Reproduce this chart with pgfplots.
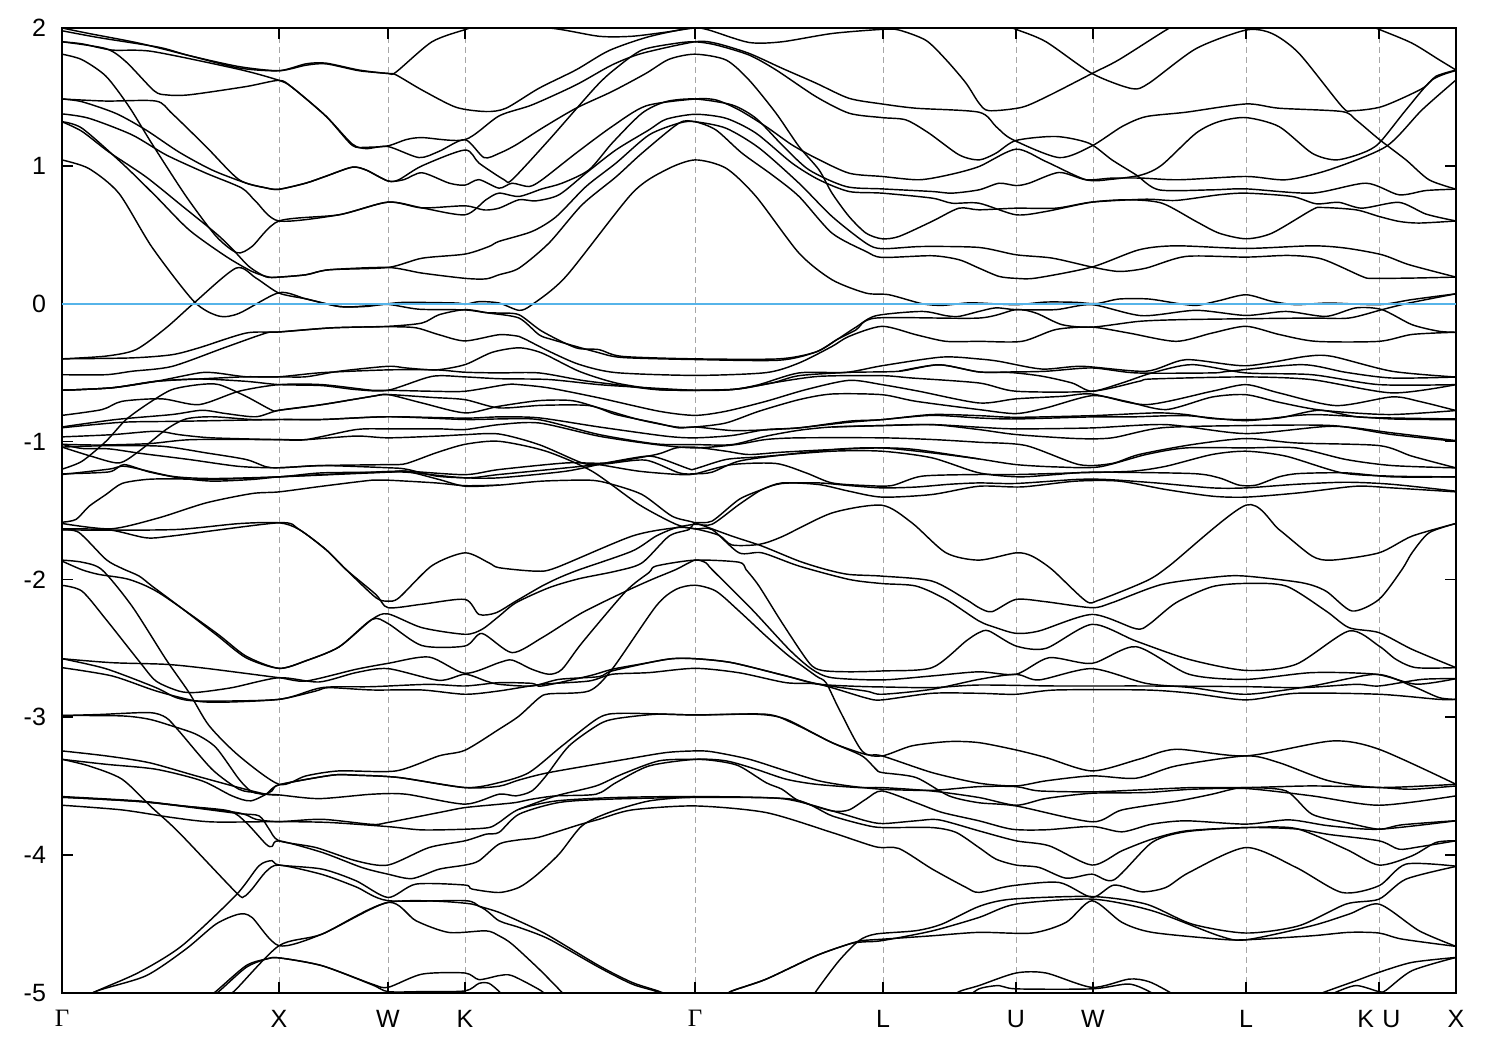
\documentclass[border=0pt]{standalone}
\usepackage{fontspec}
\setmainfont{Liberation Sans}
\newfontfamily\gam{Liberation Serif}
\usepackage{pgfplots}
\pgfplotsset{compat=1.18}
\definecolor{fermi}{RGB}{86,180,233}
\newcommand{\G}{{\gam Γ}}
\begin{document}
\begin{tikzpicture}
\path[use as bounding box] (-31pt,-28.5pt) rectangle (719pt,496.5pt);
\begin{axis}[
  scale only axis, width=697pt, height=482.5pt,
  xmin=63, xmax=1457, ymin=-5, ymax=2,
  xtick={63,280,389,466,696,884,1017,1094,1247,1380,1457},
  xticklabels={\G,X,W,K,\G,L,U,W,L,K\,\,U,X},
  ytick={-5,-4,-3,-2,-1,0,1,2},
  yticklabels={-5,-4,-3,-2,-1,0,1,2},
  tick style={black, line width=0.9pt},
  major tick length=5.5pt,
  tick align=inside,
  axis line style={line width=1pt},
  ticklabel style={font=\fontsize{12.5}{14}\selectfont},
  xticklabel style={yshift=-5pt},
  yticklabel style={xshift=-4.5pt},
  xmajorgrids,
  x grid style={densely dashed, gray!70, line width=0.4pt},
  cycle list={black\\},
  every axis plot/.style={line width=0.72pt, smooth, tension=0.45, solid, no markers},
]
% bands above the Fermi level
\addplot coordinates {(63,2.0)(90,1.96)(140,1.89)(190,1.80)(240,1.71)(280,1.69)(307,1.74)(327,1.745)(360,1.695)(389,1.67)(397,1.68)(433,1.90)(467,1.99)(480,2.01)(550,2.0)(600,1.94)(633,1.94)(667,1.97)(696,2.0)(710,1.985)(750,1.895)(783,1.90)(833,1.96)(883,1.99)(900,1.985)(927,1.91)(947,1.77)(967,1.60)(980,1.455)(990,1.40)(1023,1.425)(1050,1.51)(1093,1.67)(1120,1.77)(1167,1.985)(1177,2.01)(1240,2.15)(1340,2.1)(1380,1.99)(1413,1.89)(1440,1.77)(1457,1.695)};
\addplot coordinates {(63,1.98)(100,1.93)(160,1.86)(190,1.80)(240,1.72)(280,1.69)(307,1.73)(327,1.74)(360,1.69)(389,1.67)(397,1.66)(423,1.55)(457,1.425)(487,1.394)(507,1.418)(540,1.563)(577,1.696)(610,1.836)(650,1.937)(696,2.005)(727,2.005)(757,2.01)(830,2.03)(884,2.02)(950,2.05)(1000,2.03)(1017,1.99)(1047,1.90)(1093,1.67)(1133,1.56)(1150,1.60)(1197,1.85)(1247,1.985)(1273,1.96)(1300,1.816)(1343,1.43)(1353,1.40)(1383,1.43)(1423,1.56)(1437,1.65)(1457,1.695)};
\addplot coordinates {(63,1.90)(83,1.885)(113,1.84)(153,1.83)(240,1.70)(280,1.62)(293,1.57)(327,1.36)(353,1.15)(367,1.135)(389,1.145)(407,1.19)(423,1.205)(466,1.19)(500,1.362)(533,1.442)(577,1.587)(613,1.732)(643,1.816)(696,1.90)(717,1.889)(750,1.816)(783,1.708)(817,1.60)(850,1.49)(883,1.449)(917,1.418)(980,1.389)(997,1.285)(1013,1.193)(1060,1.06)(1093,1.145)(1123,1.285)(1147,1.357)(1187,1.389)(1247,1.449)(1280,1.418)(1343,1.394)(1357,1.333)(1380,1.193)(1407,1.043)(1430,0.899)(1457,0.831)};
\addplot coordinates {(63,1.90)(107,1.85)(127,1.755)(155,1.545)(167,1.515)(190,1.515)(247,1.575)(280,1.62)(293,1.57)(327,1.36)(353,1.16)(367,1.125)(389,1.14)(420,1.06)(440,1.105)(466,1.19)(485,1.06)(500,1.09)(517,1.152)(543,1.273)(577,1.418)(613,1.539)(647,1.671)(670,1.773)(696,1.81)(727,1.768)(750,1.623)(777,1.382)(800,1.14)(820,0.971)(833,0.802)(850,0.633)(867,0.512)(883,0.471)(900,0.488)(933,0.597)(960,0.693)(980,0.681)(1017,0.693)(1057,0.693)(1093,0.737)(1147,0.758)(1177,0.749)(1220,0.79)(1247,0.802)(1293,0.778)(1317,0.725)(1340,0.735)(1363,0.693)(1400,0.735)(1427,0.65)(1457,0.60)};
\addplot coordinates {(63,1.81)(83,1.77)(107,1.65)(130,1.43)(153,1.16)(187,0.78)(217,0.49)(238,0.37)(253,0.415)(280,0.60)(340,0.645)(389,0.737)(423,0.695)(466,0.71)(485,0.68)(500,0.693)(520,0.754)(537,0.746)(560,0.79)(587,0.947)(617,1.116)(650,1.261)(667,1.338)(696,1.374)(727,1.345)(757,1.237)(793,1.02)(820,0.899)(850,0.814)(883,0.802)(933,0.766)(953,0.729)(980,0.729)(1017,0.645)(1047,0.669)(1093,0.737)(1130,0.754)(1163,0.729)(1197,0.597)(1220,0.512)(1247,0.471)(1273,0.512)(1313,0.681)(1323,0.698)(1357,0.681)(1380,0.633)(1400,0.597)(1420,0.585)(1457,0.60)};
\addplot coordinates {(63,1.485)(107,1.47)(157,1.47)(173,1.38)(207,1.14)(240,0.90)(267,0.84)(280,0.83)(307,0.875)(327,0.925)(353,0.99)(367,0.97)(389,0.89)(400,0.90)(423,1.0)(466,1.115)(480,1.02)(505,0.90)(513,0.899)(550,1.188)(597,1.575)(617,1.708)(643,1.84)(677,1.889)(696,1.90)(717,1.877)(750,1.804)(777,1.696)(817,1.502)(850,1.382)(883,1.35)(907,1.333)(930,1.237)(960,1.08)(980,1.043)(997,1.092)(1017,1.184)(1057,1.213)(1090,1.164)(1113,1.043)(1137,0.935)(1160,0.826)(1213,0.826)(1247,0.833)(1313,0.802)(1367,0.874)(1400,0.79)(1427,0.821)(1457,0.831)};
\addplot coordinates {(63,1.485)(83,1.465)(117,1.38)(147,1.26)(180,1.10)(213,0.97)(247,0.875)(267,0.84)(280,0.83)(307,0.875)(327,0.925)(353,0.99)(367,0.97)(389,0.89)(405,0.90)(423,0.95)(450,0.875)(466,0.86)(480,0.90)(500,0.838)(513,0.874)(530,0.85)(543,0.899)(577,1.092)(613,1.285)(647,1.435)(696,1.485)(717,1.478)(740,1.406)(767,1.285)(793,1.152)(817,1.056)(850,0.947)(883,0.923)(920,0.899)(950,0.935)(980,0.995)(1017,1.121)(1047,1.031)(1087,0.899)(1113,0.903)(1143,0.935)(1163,1.007)(1197,1.237)(1220,1.321)(1247,1.35)(1280,1.285)(1313,1.092)(1337,1.043)(1363,1.092)(1380,1.164)(1407,1.406)(1433,1.623)(1457,1.691)};
\addplot coordinates {(63,1.377)(90,1.345)(133,1.225)(167,1.08)(207,0.947)(243,0.838)(257,0.74)(280,0.60)(340,0.645)(389,0.737)(423,0.695)(466,0.645)(487,0.754)(500,0.802)(520,0.778)(543,0.833)(563,0.874)(590,0.971)(613,1.164)(643,1.382)(667,1.466)(696,1.485)(733,1.442)(757,1.345)(783,1.152)(810,0.971)(847,0.85)(883,0.833)(933,0.814)(953,0.802)(980,0.826)(1000,0.874)(1017,0.857)(1030,0.874)(1060,0.952)(1087,0.899)(1113,0.911)(1143,0.911)(1180,0.899)(1247,0.923)(1287,0.899)(1330,0.971)(1387,1.14)(1423,1.406)(1457,1.623)};
\addplot coordinates {(63,1.32)(83,1.273)(123,1.019)(157,0.778)(190,0.536)(227,0.343)(253,0.234)(270,0.193)(280,0.193)(307,0.21)(330,0.246)(389,0.263)(423,0.33)(466,0.36)(490,0.415)(500,0.452)(533,0.524)(557,0.63)(587,0.85)(617,1.02)(650,1.224)(680,1.31)(696,1.32)(717,1.26)(743,1.092)(773,0.935)(800,0.778)(833,0.512)(867,0.379)(883,0.336)(933,0.348)(960,0.319)(980,0.258)(1000,0.198)(1017,0.184)(1037,0.186)(1093,0.266)(1140,0.391)(1177,0.42)(1247,0.401)(1313,0.42)(1347,0.403)(1383,0.355)(1410,0.283)(1457,0.193)};
\addplot coordinates {(63,1.32)(83,1.25)(110,1.10)(147,0.92)(183,0.71)(217,0.51)(233,0.40)(250,0.27)(267,0.195)(280,0.193)(307,0.21)(330,0.246)(389,0.263)(423,0.222)(466,0.184)(487,0.18)(500,0.21)(520,0.258)(550,0.44)(583,0.717)(617,0.92)(643,1.092)(680,1.31)(696,1.32)(727,1.273)(760,1.13)(800,0.874)(833,0.633)(867,0.439)(883,0.399)(923,0.415)(980,0.408)(1017,0.355)(1053,0.331)(1093,0.266)(1120,0.234)(1147,0.258)(1187,0.343)(1247,0.338)(1290,0.35)(1323,0.324)(1363,0.198)(1373,0.184)(1413,0.186)(1457,0.193)};
\addplot coordinates {(63,1.043)(90,0.98)(120,0.80)(153,0.41)(195,0.016)(220,-0.09)(240,-0.07)(280,0.08)(307,0.035)(340,-0.02)(360,-0.02)(389,0)(407,0.01)(457,0.005)(466,-0.005)(480,0.015)(500,0.005)(520,-0.048)(533,-0.007)(567,0.198)(633,0.80)(667,0.971)(696,1.043)(727,0.983)(757,0.778)(800,0.367)(833,0.174)(867,0.077)(890,0.065)(923,0)(943,-0.012)(967,0.005)(980,0.005)(1017,-0.007)(1047,0.012)(1077,0.01)(1097,0)(1120,0.034)(1150,0.034)(1180,0)(1198,-0.012)(1220,0.022)(1247,0.065)(1273,0.017)(1297,-0.007)(1330,0.005)(1380,-0.007)(1413,0.03)(1457,0.072)};
\addplot coordinates {(63,-0.40)(107,-0.38)(137,-0.333)(167,-0.176)(195,0.005)(237,0.258)(257,0.186)(280,0.077)(307,0.035)(340,-0.02)(367,-0.02)(389,-0.005)(420,-0.04)(466,-0.045)(487,-0.065)(500,-0.068)(520,-0.08)(543,-0.2)(577,-0.32)(600,-0.333)(623,-0.382)(696,-0.40)(780,-0.40)(817,-0.35)(838,-0.26)(857,-0.17)(877,-0.087)(923,-0.056)(947,-0.087)(960,-0.092)(980,-0.056)(997,-0.03)(1017,-0.043)(1057,-0.043)(1093,-0.007)(1143,-0.087)(1197,-0.048)(1247,-0.085)(1287,-0.056)(1327,-0.092)(1357,-0.03)(1383,-0.043)(1413,-0.152)(1440,-0.2)(1457,-0.207)};
\addplot coordinates {(63,-0.40)(133,-0.393)(173,-0.37)(200,-0.32)(247,-0.213)(280,-0.205)(333,-0.175)(389,-0.164)(423,-0.14)(440,-0.08)(466,-0.043)(490,-0.068)(520,-0.104)(540,-0.225)(553,-0.26)(597,-0.35)(623,-0.39)(696,-0.405)(780,-0.41)(817,-0.35)(838,-0.26)(857,-0.19)(877,-0.104)(980,-0.104)(1017,-0.043)(1037,-0.068)(1063,-0.152)(1093,-0.17)(1140,-0.128)(1180,-0.116)(1247,-0.109)(1313,-0.104)(1350,-0.104)(1383,-0.043)(1410,0.005)(1457,0.072)};
\addplot coordinates {(63,-0.515)(107,-0.515)(133,-0.49)(173,-0.455)(225,-0.32)(267,-0.213)(280,-0.205)(333,-0.175)(389,-0.167)(417,-0.175)(440,-0.225)(466,-0.27)(500,-0.225)(520,-0.237)(527,-0.26)(550,-0.345)(580,-0.44)(617,-0.50)(696,-0.52)(767,-0.50)(800,-0.43)(833,-0.31)(850,-0.237)(883,-0.164)(917,-0.225)(947,-0.273)(980,-0.273)(1023,-0.273)(1057,-0.187)(1093,-0.17)(1130,-0.213)(1177,-0.273)(1213,-0.213)(1247,-0.164)(1280,-0.223)(1317,-0.273)(1380,-0.273)(1413,-0.223)(1457,-0.207)};
% -0.5 to -1.4
\addplot coordinates {(63,-0.628)(113,-0.61)(157,-0.563)(200,-0.546)(247,-0.53)(280,-0.53)(323,-0.50)(389,-0.48)(437,-0.48)(466,-0.497)(500,-0.502)(540,-0.502)(583,-0.556)(617,-0.587)(657,-0.623)(696,-0.628)(740,-0.618)(773,-0.575)(820,-0.527)(883,-0.522)(913,-0.539)(980,-0.575)(1017,-0.635)(1093,-0.635)(1140,-0.563)(1153,-0.546)(1247,-0.531)(1313,-0.551)(1393,-0.647)(1457,-0.587)};
\addplot coordinates {(63,-0.628)(113,-0.61)(157,-0.563)(200,-0.502)(217,-0.502)(247,-0.53)(280,-0.53)(307,-0.53)(340,-0.49)(389,-0.454)(407,-0.466)(437,-0.48)(466,-0.442)(493,-0.353)(520,-0.32)(543,-0.358)(580,-0.49)(617,-0.575)(660,-0.623)(696,-0.628)(733,-0.623)(760,-0.587)(800,-0.502)(847,-0.498)(883,-0.45)(943,-0.387)(980,-0.401)(1000,-0.418)(1043,-0.474)(1083,-0.454)(1147,-0.49)(1187,-0.406)(1247,-0.45)(1307,-0.382)(1333,-0.382)(1393,-0.49)(1457,-0.532)};
\addplot coordinates {(63,-0.628)(113,-0.61)(157,-0.563)(200,-0.546)(247,-0.563)(280,-0.587)(323,-0.594)(357,-0.623)(389,-0.628)(433,-0.527)(466,-0.531)(500,-0.544)(550,-0.55)(600,-0.587)(640,-0.606)(696,-0.628)(733,-0.623)(773,-0.575)(800,-0.522)(850,-0.498)(900,-0.49)(940,-0.443)(980,-0.495)(1013,-0.5)(1043,-0.526)(1073,-0.575)(1093,-0.635)(1123,-0.575)(1153,-0.502)(1193,-0.442)(1247,-0.502)(1313,-0.515)(1380,-0.587)(1457,-0.587)};
\addplot coordinates {(900,-0.49)(940,-0.443)(980,-0.495)(1013,-0.495)(1047,-0.49)(1093,-0.466)(1137,-0.502)(1213,-0.502)(1230,-0.49)(1303,-0.442)(1347,-0.498)(1393,-0.539)(1457,-0.532)};
\addplot coordinates {(63,-0.81)(103,-0.768)(123,-0.708)(163,-0.69)(200,-0.732)(240,-0.635)(280,-0.587)(323,-0.587)(373,-0.628)(389,-0.628)(433,-0.635)(466,-0.635)(507,-0.587)(520,-0.587)(550,-0.611)(600,-0.683)(660,-0.78)(696,-0.81)(727,-0.78)(767,-0.708)(807,-0.623)(850,-0.556)(883,-0.587)(920,-0.635)(980,-0.72)(1017,-0.69)(1063,-0.672)(1093,-0.655)(1147,-0.732)(1213,-0.635)(1247,-0.587)(1280,-0.647)(1337,-0.739)(1393,-0.676)(1420,-0.708)(1457,-0.775)};
\addplot coordinates {(63,-1.2)(83,-1.143)(107,-0.998)(127,-0.841)(150,-0.72)(173,-0.623)(200,-0.587)(220,-0.587)(247,-0.672)(273,-0.773)(280,-0.773)(323,-0.732)(373,-0.672)(389,-0.659)(423,-0.72)(466,-0.792)(500,-0.744)(540,-0.703)(573,-0.703)(600,-0.756)(640,-0.841)(677,-0.894)(696,-0.894)(727,-0.865)(760,-0.78)(800,-0.696)(833,-0.655)(883,-0.66)(917,-0.708)(980,-0.768)(1017,-0.797)(1047,-0.756)(1093,-0.667)(1127,-0.708)(1167,-0.768)(1213,-0.677)(1247,-0.66)(1280,-0.715)(1323,-0.773)(1390,-0.804)(1457,-0.775)};
\addplot coordinates {(63,-0.894)(117,-0.84)(173,-0.804)(203,-0.773)(227,-0.797)(257,-0.82)(280,-0.773)(323,-0.732)(373,-0.672)(389,-0.659)(433,-0.68)(466,-0.696)(500,-0.756)(543,-0.737)(590,-0.739)(617,-0.804)(657,-0.865)(680,-0.901)(696,-0.894)(733,-0.92)(767,-0.915)(800,-0.9)(850,-0.86)(883,-0.841)(933,-0.81)(980,-0.829)(1017,-0.836)(1093,-0.821)(1133,-0.821)(1187,-0.812)(1247,-0.848)(1313,-0.804)(1393,-0.836)(1457,-0.841)};
\addplot coordinates {(63,-0.9)(123,-0.86)(180,-0.853)(280,-0.84)(323,-0.84)(389,-0.82)(466,-0.83)(500,-0.821)(540,-0.828)(600,-0.894)(667,-0.961)(696,-0.973)(733,-0.956)(767,-0.913)(800,-0.901)(850,-0.852)(883,-0.841)(933,-0.804)(980,-0.812)(1017,-0.824)(1093,-0.812)(1157,-0.792)(1187,-0.804)(1213,-0.833)(1247,-0.841)(1280,-0.829)(1320,-0.773)(1357,-0.82)(1393,-0.829)(1457,-0.836)};
\addplot coordinates {(63,-1.04)(92,-1.106)(120,-1.155)(140,-1.07)(167,-0.913)(187,-0.836)(213,-0.82)(253,-0.84)(280,-0.84)(323,-0.84)(389,-0.82)(466,-0.84)(500,-0.836)(540,-0.841)(600,-0.949)(657,-1.017)(696,-1.022)(733,-1.022)(767,-0.961)(800,-0.918)(833,-0.894)(883,-0.884)(933,-0.877)(980,-0.896)(1017,-0.908)(1093,-0.901)(1167,-0.877)(1247,-0.942)(1333,-0.889)(1393,-0.937)(1457,-0.993)};
\addplot coordinates {(833,-0.894)(883,-0.884)(933,-0.877)(980,-0.913)(1017,-0.949)(1077,-0.978)(1113,-0.973)(1163,-0.9)(1247,-0.884)(1333,-0.884)(1393,-0.949)(1457,-0.998)};
\addplot coordinates {(63,-0.966)(113,-0.95)(157,-0.925)(180,-0.95)(213,-0.973)(280,-0.986)(307,-0.986)(357,-0.913)(389,-0.908)(440,-0.908)(466,-0.913)(500,-0.877)(540,-0.865)(600,-0.961)(657,-1.022)(696,-1.046)(737,-1.022)(767,-0.985)(800,-0.973)(883,-0.973)(933,-0.985)(980,-1.005)(1027,-1.029)(1080,-1.167)(1113,-1.159)(1140,-1.094)(1193,-1.022)(1247,-0.978)(1297,-1.01)(1380,-1.029)(1413,-1.106)(1457,-1.191)};
\addplot coordinates {(63,-1.02)(100,-1.025)(150,-1.015)(193,-0.986)(280,-0.986)(307,-0.986)(357,-0.96)(389,-0.973)(440,-0.96)(466,-0.95)(500,-0.945)(540,-1.022)(583,-1.155)(600,-1.167)(640,-1.215)(680,-1.239)(696,-1.234)(733,-1.167)(777,-1.159)(807,-1.227)(833,-1.3)(867,-1.319)(893,-1.319)(923,-1.251)(980,-1.239)(1017,-1.239)(1077,-1.227)(1133,-1.215)(1167,-1.179)(1213,-1.094)(1247,-1.07)(1287,-1.106)(1343,-1.227)(1393,-1.251)(1457,-1.256)};
\addplot coordinates {(63,-1.04)(107,-1.03)(163,-1.034)(207,-1.082)(247,-1.13)(267,-1.183)(280,-1.19)(323,-1.174)(389,-1.167)(407,-1.16)(437,-1.082)(466,-1.02)(500,-0.998)(547,-1.07)(593,-1.215)(640,-1.457)(677,-1.6)(696,-1.633)(713,-1.638)(740,-1.807)(763,-1.807)(800,-1.903)(850,-2.0)(883,-2.03)(917,-2.048)(947,-2.145)(980,-2.302)(997,-2.35)(1017,-2.391)(1040,-2.374)(1093,-2.254)(1137,-2.358)(1150,-2.326)(1177,-2.169)(1213,-2.053)(1247,-2.029)(1287,-2.048)(1327,-2.229)(1350,-2.35)(1380,-2.386)(1413,-2.507)(1457,-2.64)};
\addplot coordinates {(63,-1.234)(110,-1.22)(125,-1.167)(150,-1.22)(180,-1.263)(213,-1.287)(253,-1.275)(280,-1.256)(323,-1.24)(373,-1.222)(407,-1.215)(466,-1.24)(500,-1.203)(567,-1.155)(607,-1.155)(657,-1.094)(677,-1.046)(696,-1.041)(727,-1.07)(750,-1.094)(783,-1.077)(833,-1.058)(883,-1.046)(917,-1.058)(980,-1.126)(1017,-1.167)(1057,-1.184)(1100,-1.184)(1147,-1.094)(1187,-1.046)(1247,-1.046)(1297,-1.046)(1347,-1.13)(1393,-1.174)(1457,-1.191)};
\addplot coordinates {(63,-1.239)(110,-1.2)(127,-1.18)(173,-1.252)(213,-1.268)(280,-1.256)(373,-1.227)(407,-1.222)(466,-1.263)(500,-1.239)(567,-1.191)(610,-1.159)(647,-1.135)(680,-1.227)(696,-1.234)(713,-1.222)(740,-1.142)(787,-1.094)(843,-1.053)(883,-1.046)(933,-1.082)(980,-1.126)};
\addplot coordinates {(63,-1.02)(83,-1.05)(110,-1.053)(143,-1.087)(190,-1.13)(240,-1.18)(280,-1.19)(323,-1.174)(389,-1.19)(407,-1.2)(437,-1.25)(466,-1.263)(500,-1.263)(567,-1.215)(607,-1.155)(647,-1.106)(663,-1.126)(690,-1.198)(696,-1.198)(727,-1.13)(760,-1.111)(833,-1.07)(883,-1.07)(933,-1.118)(980,-1.227)(1020,-1.256)(1057,-1.239)(1093,-1.222)(1193,-1.232)(1220,-1.263)(1240,-1.316)(1257,-1.316)(1280,-1.256)(1300,-1.232)(1347,-1.227)(1393,-1.256)(1457,-1.256)};
\addplot coordinates {(63,-1.585)(77,-1.565)(90,-1.47)(107,-1.384)(123,-1.304)(147,-1.275)(173,-1.27)(213,-1.275)(280,-1.256)(323,-1.227)(389,-1.222)(407,-1.215)(440,-1.275)(466,-1.324)(500,-1.316)(543,-1.287)(590,-1.28)(610,-1.304)(643,-1.384)(673,-1.541)(696,-1.589)(733,-1.686)(763,-1.758)(800,-1.867)(827,-1.928)(850,-1.964)(883,-1.976)(933,-2.012)(967,-2.145)(980,-2.205)(993,-2.234)(1017,-2.145)(1047,-2.162)(1093,-2.205)(1113,-2.169)(1163,-2.036)(1220,-1.98)(1247,-1.976)(1303,-2.024)(1327,-2.085)(1353,-2.229)(1380,-2.145)(1403,-1.928)(1413,-1.807)(1430,-1.662)(1457,-1.594)};
\addplot coordinates {(63,-1.594)(112,-1.633)(160,-1.553)(207,-1.445)(253,-1.377)(280,-1.365)(323,-1.324)(373,-1.28)(389,-1.28)(437,-1.3)(466,-1.32)(500,-1.316)};
% -1.6 to -3
\addplot coordinates {(63,-1.633)(110,-1.64)(147,-1.698)(173,-1.685)(280,-1.589)(300,-1.637)(327,-1.784)(347,-1.928)(377,-2.133)(389,-2.157)(400,-2.133)(433,-1.9)(466,-1.807)(490,-1.88)(500,-1.915)(537,-1.94)(557,-1.915)(633,-1.686)(677,-1.625)(696,-1.633)(720,-1.68)(733,-1.75)(760,-1.746)(783,-1.69)(833,-1.518)(883,-1.462)(913,-1.59)(947,-1.807)(980,-1.86)(1017,-1.807)(1033,-1.831)(1053,-1.928)(1087,-2.157)(1100,-2.15)(1147,-2.012)(1170,-1.903)(1247,-1.461)(1280,-1.638)(1313,-1.83)(1333,-1.86)(1380,-1.807)(1413,-1.686)(1457,-1.594)};
\addplot coordinates {(63,-1.64)(110,-1.643)(180,-1.637)(240,-1.595)(280,-1.589)(300,-1.637)(327,-1.784)(347,-1.928)(377,-2.11)(389,-2.205)(423,-2.18)(466,-2.145)(480,-2.254)(497,-2.242)(517,-2.157)(543,-2.048)(560,-1.988)(580,-1.93)(633,-1.795)(657,-1.686)(677,-1.625)(696,-1.6)(713,-1.6)(740,-1.457)(763,-1.348)(783,-1.304)(820,-1.3)(850,-1.319)(883,-1.336)(917,-1.33)(950,-1.31)(980,-1.3)(1017,-1.304)(1077,-1.275)(1107,-1.275)(1157,-1.3)(1213,-1.336)(1247,-1.336)(1297,-1.31)(1347,-1.295)(1393,-1.31)(1457,-1.36)};
\addplot coordinates {(63,-1.64)(80,-1.66)(107,-1.855)(123,-1.92)(140,-1.975)(153,-2.048)(180,-2.194)(217,-2.4)(247,-2.568)(280,-2.645)(307,-2.59)(340,-2.49)(373,-2.29)(389,-2.25)(423,-2.35)(466,-2.398)(483,-2.362)(500,-2.267)(517,-2.169)(550,-2.06)(580,-1.995)(617,-1.94)(643,-1.88)(670,-1.686)(690,-1.638)(696,-1.589)(713,-1.577)(740,-1.42)(763,-1.348)(783,-1.3)(820,-1.312)(850,-1.36)(883,-1.403)(933,-1.384)(980,-1.324)(1023,-1.329)(1077,-1.287)(1120,-1.287)(1167,-1.348)(1213,-1.396)(1247,-1.403)(1300,-1.372)(1357,-1.324)(1393,-1.336)(1457,-1.365)};
\addplot coordinates {(63,-1.867)(83,-1.93)(100,-1.964)(130,-2.0)(160,-2.097)(217,-2.387)(247,-2.556)(280,-2.645)(307,-2.59)(340,-2.49)(373,-2.29)(389,-2.32)(423,-2.48)(466,-2.483)(483,-2.392)(513,-2.531)(543,-2.423)(583,-2.242)(627,-2.085)(653,-2.0)(677,-1.928)(696,-1.86)(707,-1.88)(713,-1.928)(753,-2.218)(790,-2.507)(813,-2.652)(833,-2.713)(883,-2.729)(933,-2.7)(980,-2.67)(1017,-2.688)(1050,-2.568)(1093,-2.609)(1137,-2.488)(1190,-2.688)(1247,-2.725)(1313,-2.676)(1377,-2.688)(1417,-2.76)(1457,-2.72)};
\addplot coordinates {(63,-2.575)(113,-2.604)(167,-2.616)(207,-2.645)(280,-2.713)(307,-2.737)(357,-2.652)(389,-2.609)(430,-2.563)(466,-2.681)(500,-2.604)(513,-2.585)(533,-2.652)(550,-2.688)(563,-2.652)(583,-2.46)(627,-2.085)(650,-1.95)(657,-1.903)(696,-1.86)(740,-1.875)(747,-1.928)(760,-2.048)(783,-2.314)(810,-2.604)(823,-2.66)(850,-2.67)(883,-2.664)(933,-2.64)(967,-2.447)(980,-2.386)(990,-2.374)(1017,-2.483)(1047,-2.5)(1093,-2.326)(1137,-2.447)(1190,-2.58)(1247,-2.66)(1297,-2.616)(1350,-2.374)(1380,-2.483)(1397,-2.58)(1417,-2.64)(1457,-2.64)};
\addplot coordinates {(63,-2.575)(107,-2.648)(157,-2.785)(177,-2.857)(200,-2.882)(280,-2.87)(323,-2.785)(373,-2.778)(430,-2.761)(466,-2.773)(500,-2.749)(533,-2.754)(543,-2.773)(590,-2.7)(613,-2.652)(640,-2.616)(673,-2.575)(696,-2.575)(733,-2.604)(787,-2.70)(820,-2.76)(867,-2.778)(883,-2.78)(933,-2.785)(980,-2.766)(1057,-2.773)(1147,-2.773)(1247,-2.778)(1303,-2.785)(1357,-2.761)(1380,-2.773)(1423,-2.725)(1457,-2.72)};
\addplot coordinates {(63,-2.64)(113,-2.7)(157,-2.809)(197,-2.882)(227,-2.89)(280,-2.87)(317,-2.809)(330,-2.785)(373,-2.802)(423,-2.802)(466,-2.833)(500,-2.809)(543,-2.761)(590,-2.737)(613,-2.688)(650,-2.676)(696,-2.645)(740,-2.677)(787,-2.749)(820,-2.761)(867,-2.86)(883,-2.874)(933,-2.826)(980,-2.826)(1017,-2.833)(1057,-2.802)(1147,-2.802)(1193,-2.826)(1247,-2.874)(1297,-2.826)(1380,-2.833)(1440,-2.87)(1457,-2.87)};
\addplot coordinates {(63,-2.043)(83,-2.085)(107,-2.29)(140,-2.592)(157,-2.737)(180,-2.81)(197,-2.82)(233,-2.785)(280,-2.713)(320,-2.744)(357,-2.676)(389,-2.647)(440,-2.732)(466,-2.688)(487,-2.737)(500,-2.761)(533,-2.773)(560,-2.725)(600,-2.705)(613,-2.664)(667,-2.58)(696,-2.575)(733,-2.604)(787,-2.70)(820,-2.76)(867,-2.81)(883,-2.833)(933,-2.797)(980,-2.725)(1017,-2.688)(1040,-2.729)(1093,-2.647)(1147,-2.754)(1193,-2.785)(1247,-2.833)(1313,-2.773)(1377,-2.688)(1413,-2.773)(1440,-2.857)(1457,-2.87)};
% -3 to -4
\addplot coordinates {(63,-1.86)(83,-1.875)(103,-1.93)(133,-2.194)(167,-2.58)(190,-2.82)(210,-3.06)(240,-3.28)(280,-3.486)(307,-3.425)(340,-3.389)(397,-3.389)(440,-3.28)(466,-3.239)(500,-3.087)(520,-2.991)(540,-2.86)(550,-2.83)(590,-2.809)(613,-2.652)(657,-2.194)(677,-2.072)(696,-2.042)(717,-2.085)(740,-2.229)(767,-2.411)(790,-2.556)(817,-2.7)(827,-2.749)(840,-2.94)(863,-3.244)(883,-3.28)(913,-3.207)(950,-3.176)(980,-3.184)(1017,-3.237)(1047,-3.292)(1093,-3.389)(1140,-3.304)(1177,-3.232)(1247,-3.28)(1333,-3.172)(1380,-3.232)(1457,-3.486)};
\addplot coordinates {(63,-3.305)(107,-3.341)(157,-3.377)(203,-3.461)(233,-3.57)(252,-3.606)(273,-3.534)(280,-3.49)(333,-3.42)(357,-3.42)(400,-3.437)(466,-3.51)(500,-3.474)(530,-3.401)(563,-3.208)(600,-3.003)(623,-2.971)(696,-2.983)(757,-2.978)(787,-3.014)(833,-3.184)(867,-3.27)(883,-3.28)(933,-3.401)(980,-3.478)(1017,-3.498)(1047,-3.461)(1093,-3.425)(1137,-3.442)(1177,-3.353)(1247,-3.28)(1280,-3.329)(1330,-3.461)(1380,-3.509)(1457,-3.486)};
\addplot coordinates {(63,-2.987)(100,-2.98)(150,-2.966)(167,-3.002)(180,-3.1)(213,-3.377)(240,-3.522)(257,-3.546)(267,-3.558)(280,-3.49)(333,-3.42)(357,-3.42)(400,-3.437)(466,-3.51)(500,-3.5)(520,-3.455)(550,-3.401)(623,-3.309)(667,-3.256)(696,-3.244)(713,-3.25)(750,-3.304)(787,-3.389)(820,-3.461)(850,-3.498)(883,-3.522)(933,-3.53)(980,-3.503)(1017,-3.503)(1040,-3.534)(1093,-3.541)(1140,-3.527)(1193,-3.51)(1247,-3.51)(1313,-3.498)(1380,-3.51)(1413,-3.522)(1457,-3.498)};
\addplot coordinates {(63,-2.987)(123,-2.99)(150,-3.014)(173,-3.063)(197,-3.123)(217,-3.22)(240,-3.449)(253,-3.541)(267,-3.558)(280,-3.563)(320,-3.59)(373,-3.558)(407,-3.558)(466,-3.63)(500,-3.558)(517,-3.57)(533,-3.534)(547,-3.425)(570,-3.208)(600,-3.051)(617,-3.01)(657,-2.978)(696,-2.983)(767,-2.978)(793,-3.04)(833,-3.184)(863,-3.28)(877,-3.377)(883,-3.401)(917,-3.437)(950,-3.57)(980,-3.62)(1017,-3.643)(1093,-3.758)(1123,-3.672)(1180,-3.606)(1213,-3.558)(1233,-3.522)(1247,-3.51)(1287,-3.534)(1313,-3.703)(1347,-3.763)(1380,-3.812)(1403,-3.78)(1457,-3.75)};
\addplot coordinates {(63,-3.244)(107,-3.28)(150,-3.329)(197,-3.425)(240,-3.51)(267,-3.558)(280,-3.563)};
\addplot coordinates {(63,-3.575)(140,-3.607)(183,-3.643)(230,-3.679)(247,-3.763)(267,-3.92)(273,-3.937)(280,-3.896)(323,-3.98)(363,-4.09)(389,-4.138)(413,-4.17)(440,-4.102)(466,-4.072)(480,-4.041)(500,-3.92)(520,-3.889)(540,-3.87)(580,-3.78)(600,-3.74)(633,-3.672)(696,-3.643)(767,-3.691)(833,-3.836)(877,-3.94)(900,-3.952)(933,-4.1)(967,-4.234)(980,-4.27)(1013,-4.222)(1060,-4.198)(1093,-4.306)(1115,-4.217)(1143,-4.266)(1167,-4.234)(1190,-4.126)(1247,-3.945)(1297,-4.089)(1343,-4.271)(1380,-4.222)(1407,-4.065)(1457,-4.08)};
\addplot coordinates {(63,-3.58)(147,-3.615)(237,-3.696)(260,-3.715)(270,-3.81)(280,-3.896)(317,-3.945)(357,-4.041)(389,-4.072)(430,-3.945)(466,-3.896)(487,-3.848)(500,-3.835)(520,-3.703)(560,-3.618)(610,-3.594)(696,-3.582)(793,-3.594)(833,-3.715)(867,-3.783)(884,-3.8)(933,-3.8)(957,-3.835)(980,-3.945)(997,-4.029)(1017,-4.072)(1040,-4.089)(1067,-4.167)(1093,-4.138)(1115,-4.179)(1153,-3.908)(1187,-3.83)(1247,-3.8)(1297,-3.81)(1330,-3.85)(1380,-3.896)(1400,-3.957)(1420,-3.94)(1457,-3.896)};
\addplot coordinates {(63,-3.58)(147,-3.615)(237,-3.69)(257,-3.74)(280,-3.757)(323,-3.74)(373,-3.777)(389,-3.763)(440,-3.691)(466,-3.655)(500,-3.631)(517,-3.618)(533,-3.594)(557,-3.57)(597,-3.558)(617,-3.474)(650,-3.353)(696,-3.305)(727,-3.316)(757,-3.377)(787,-3.449)(817,-3.486)(860,-3.51)(883,-3.51)(933,-3.535)(980,-3.582)(1017,-3.638)(1047,-3.589)(1093,-3.551)(1147,-3.546)(1193,-3.522)(1247,-3.517)(1313,-3.57)(1380,-3.638)(1457,-3.57)};
\addplot coordinates {(63,-3.638)(123,-3.672)(173,-3.727)(213,-3.759)(280,-3.757)(330,-3.763)(389,-3.793)(423,-3.817)(466,-3.812)(490,-3.8)(500,-3.763)(520,-3.667)(557,-3.607)(617,-3.582)(696,-3.575)(783,-3.59)(833,-3.679)(867,-3.751)(884,-3.771)(917,-3.751)(940,-3.744)(980,-3.824)(1017,-3.896)(1050,-3.932)(1093,-4.072)(1123,-3.968)(1153,-3.884)(1187,-3.824)(1247,-3.8)(1297,-3.807)(1347,-3.957)(1380,-4.072)(1413,-4.005)(1437,-3.908)(1457,-3.896)};
\addplot coordinates {(520,-3.667)(557,-3.57)(597,-3.498)(623,-3.413)(660,-3.316)(696,-3.305)(717,-3.316)(740,-3.353)(767,-3.474)(783,-3.522)(800,-3.606)(833,-3.679)(850,-3.672)(867,-3.594)(883,-3.534)(917,-3.62)(943,-3.69)(980,-3.751)(1013,-3.812)(1047,-3.816)(1093,-3.792)(1123,-3.831)(1153,-3.775)(1187,-3.751)(1247,-3.775)(1290,-3.744)(1330,-3.787)(1380,-3.812)(1457,-3.751)};
% -4 to -5
\addplot coordinates {(63,-3.305)(90,-3.353)(123,-3.449)(153,-3.655)(180,-3.836)(237,-4.27)(245,-4.3)(253,-4.246)(267,-4.12)(280,-4.072)(323,-4.14)(357,-4.23)(389,-4.33)(466,-4.33)(480,-4.37)(500,-4.415)(530,-4.512)(550,-4.585)(600,-4.802)(633,-4.923)(660,-4.988)(680,-5.05)};
\addplot coordinates {(60,-5.12)(97,-4.988)(140,-4.85)(183,-4.657)(237,-4.29)(260,-4.077)(273,-4.04)(280,-4.072)(323,-4.101)(357,-4.186)(389,-4.307)(417,-4.21)(466,-4.217)(473,-4.246)(500,-4.271)(520,-4.234)(537,-4.148)(560,-3.993)(583,-3.787)(610,-3.691)(650,-3.607)(696,-3.575)};
\addplot coordinates {(60,-5.12)(97,-4.988)(147,-4.875)(187,-4.681)(217,-4.5)(240,-4.428)(253,-4.452)(280,-4.657)(323,-4.573)(389,-4.343)(417,-4.476)(450,-4.561)(487,-4.549)(500,-4.585)(513,-4.645)(540,-4.826)(562,-4.988)(570,-5.05)};
\addplot coordinates {(220,-5.05)(235,-4.988)(280,-4.657)(323,-4.573)(389,-4.343)(473,-4.355)(500,-4.476)(520,-4.524)(550,-4.609)(600,-4.814)(633,-4.935)(657,-4.988)(675,-5.05)};
\addplot coordinates {(205,-5.05)(217,-4.988)(247,-4.802)(267,-4.754)(280,-4.745)(323,-4.802)(373,-4.935)(389,-4.959)(423,-4.863)(466,-4.855)(480,-4.903)(500,-4.874)(513,-4.874)(542,-4.983)(552,-5.05)};
\addplot coordinates {(208,-5.05)(220,-4.988)(247,-4.815)(267,-4.754)(280,-4.745)(323,-4.802)(373,-4.94)(389,-4.99)(423,-4.99)(466,-4.985)(480,-4.93)(490,-4.93)(500,-4.988)(508,-5.05)};
\addplot coordinates {(720,-5.05)(732,-4.988)(767,-4.9)(817,-4.73)(850,-4.645)(863,-4.62)(883,-4.61)(933,-4.585)(980,-4.56)(1033,-4.565)(1067,-4.488)(1093,-4.331)(1123,-4.488)(1153,-4.56)(1220,-4.609)(1247,-4.614)(1313,-4.585)(1350,-4.56)(1380,-4.565)(1403,-4.609)(1457,-4.662)};
\addplot coordinates {(720,-5.05)(732,-4.988)(767,-4.9)(817,-4.73)(850,-4.645)(863,-4.63)(883,-4.62)(933,-4.55)(980,-4.452)(1017,-4.355)(1093,-4.319)(1153,-4.403)(1220,-4.585)(1247,-4.614)(1313,-4.512)(1350,-4.428)(1380,-4.355)(1420,-4.548)(1457,-4.662)};
\addplot coordinates {(810,-5.08)(817,-4.988)(840,-4.766)(860,-4.62)(877,-4.572)(917,-4.548)(943,-4.5)(980,-4.372)(1013,-4.319)(1093,-4.3)(1147,-4.355)(1193,-4.5)(1247,-4.565)(1300,-4.512)(1347,-4.355)(1380,-4.319)(1407,-4.174)(1457,-4.082)};
\addplot coordinates {(950,-5.05)(960,-4.99)(980,-4.946)(1017,-4.855)(1047,-4.855)(1093,-4.959)(1130,-4.899)(1150,-4.918)(1172,-5.0)(1180,-5.05)};
\addplot coordinates {(965,-5.05)(980,-4.97)(1000,-4.946)(1017,-4.97)(1093,-4.97)(1130,-4.935)(1153,-5.0)(1160,-5.05)};
\addplot coordinates {(1310,-5.05)(1323,-5)(1357,-4.911)(1380,-4.85)(1413,-4.778)(1457,-4.742)};
\addplot coordinates {(1322,-5.05)(1335,-5)(1357,-4.946)(1380,-4.99)(1387,-4.98)(1413,-4.838)(1457,-4.742)};
% Fermi level
\addplot[fermi, line width=0.8pt, sharp plot] coordinates {(63,0)(1457,0)};
\end{axis}
\end{tikzpicture}
\end{document}
